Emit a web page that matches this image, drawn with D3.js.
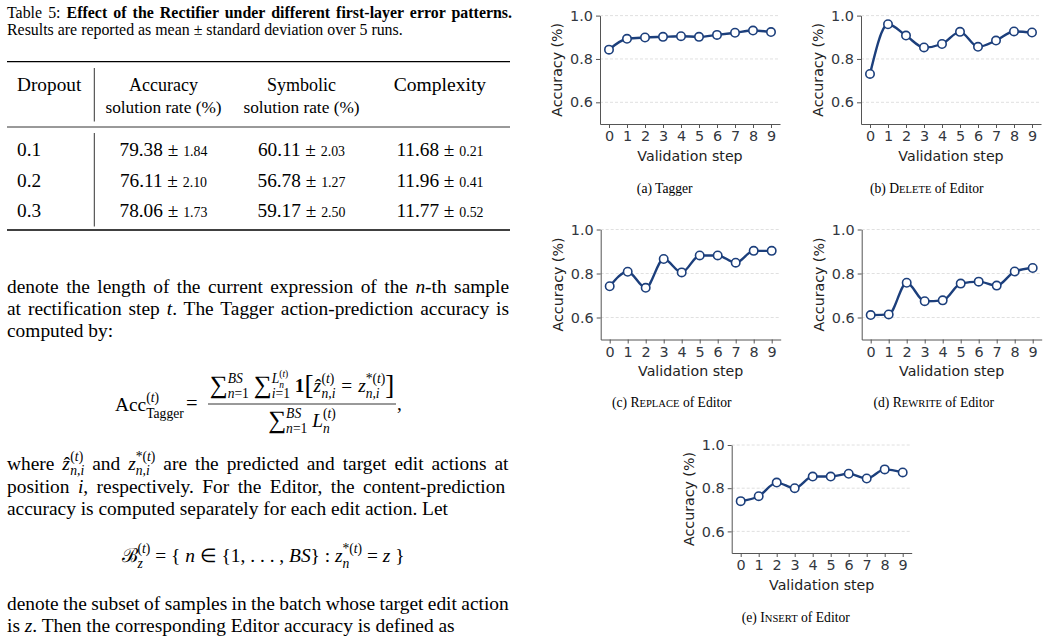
<!DOCTYPE html>
<html>
<head>
<meta charset="utf-8">
<script src="https://cdn.jsdelivr.net/npm/d3@7"></script>
<style>
  html, body { margin: 0; padding: 0; background: #fff; }
  svg { display: block; }
</style>
</head>
<body>
<svg id="page" width="1048" height="644"></svg>
<script>
// ---- chart data ----
const steps = [0, 1, 2, 3, 4, 5, 6, 7, 8, 9];
const taggerAcc  = [0.843, 0.893, 0.899, 0.902, 0.905, 0.902, 0.911, 0.921, 0.931, 0.924];
const deleteAcc  = [0.731, 0.960, 0.908, 0.853, 0.869, 0.925, 0.856, 0.885, 0.927, 0.922];
const replaceAcc = [0.742, 0.808, 0.735, 0.866, 0.805, 0.882, 0.882, 0.849, 0.903, 0.903];
const rewriteAcc = [0.611, 0.614, 0.758, 0.674, 0.678, 0.754, 0.763, 0.745, 0.809, 0.825];
const insertAcc  = [0.740, 0.763, 0.826, 0.800, 0.854, 0.854, 0.867, 0.845, 0.887, 0.873];
const yTicks = [0.6, 0.8, 1.0];

// ---- table data ----
const dropouts = ["0.1", "0.2", "0.3"];
const accMean = ["79.38", "76.11", "78.06"];
const accStd  = ["1.84", "2.10", "1.73"];
const symMean = ["60.11", "56.78", "59.17"];
const symStd  = ["2.03", "1.27", "2.50"];
const cxMean  = ["11.68", "11.96", "11.77"];
const cxStd   = ["0.21", "0.41", "0.52"];

const SERIF = "'Liberation Serif', 'Times New Roman', serif";
const SANS = "'DejaVu Sans', sans-serif";
const BLUE = "#1c3f7c";

const svg = d3.select("#page");
svg.append("rect").attr("width", 1048).attr("height", 644).attr("fill", "#fff");

// --- tiny typesetter: pieces of text with sub/superscripts ---
const r  = (t, o = {}) => ({t, st: "", ...o});
const it = (t, o = {}) => ({t, st: "i", ...o});
const bd = (t, o = {}) => ({t, st: "b", ...o});
const M = {op: "mark"}, BK = {op: "back"}, END = {op: "end"};

// stacked superscript / subscript
function S(sup, sub, lo = 0.30) {
  const f = (arr, base) => arr.map(p => p.op ? p : {...p, off: base + (p.off || 0) * 0.7, sc: (p.sc || 1) * 0.7});
  return [M, ...f(sup, -0.44), BK, ...f(sub, lo), END];
}
const zhat = () => [M, it("z"), BK, r("ˆ", {dx: 1.5}), END];
const tt = () => [r("("), it("t"), r(")")];
const st = () => [r("*("), it("t"), r(")")];

function rich(parent, x, y, size, segs, opts = {}) {
  const t = parent.append("text").attr("x", x).attr("y", y)
    .attr("font-family", SERIF).attr("font-size", size).attr("fill", "#000");
  let off = 0, pen = 0, dx = 0;
  const marks = [];
  segs.forEach(p => {
    if (p.op === "mark") { marks.push({x: pen + dx, end: 0}); return; }
    if (p.op === "back") { const m = marks[marks.length - 1]; m.end = pen + dx; dx = m.x - pen; return; }
    if (p.op === "end") { const m = marks.pop(); if (m.end > pen + dx) dx = m.end - pen; return; }
    const o = (p.off || 0) * size;
    const ts = t.append("tspan").text(p.t)
      .attr("font-size", (p.sc || 1) * size)
      .attr("dy", o - off);
    const ddx = dx + (p.dx || 0);
    if (ddx) ts.attr("dx", ddx);
    if (p.st.includes("i")) ts.attr("font-style", "italic");
    if (p.st.includes("b")) ts.attr("font-weight", "bold");
    off = o;
    pen += ddx + ts.node().getComputedTextLength();
    dx = 0;
  });
  const bb = t.node().getBBox();
  if (opts.width) {
    const n = (t.text().match(/ /g) || []).length;
    if (n) t.attr("word-spacing", (x + opts.width - (bb.x + bb.width)) / n);
  }
  if (opts.cx !== undefined) t.attr("x", x + opts.cx - (bb.x + bb.width / 2));
  return t;
}

// ---- left column: table caption + table ----
const left = svg.append("g");
const CAP = 15.9, BODY = 19.4, TAB = 19.3, COLW = 502;

rich(left, 7, 17.5, CAP, [r("Table 5: "), bd("Effect of the Rectifier under different first-layer error patterns.")], {width: 505});
rich(left, 7, 35, CAP, [r("Results are reported as mean ± standard deviation over 5 runs.")]);

const rule = (y, w) => left.append("line").attr("x1", 7).attr("x2", 510)
  .attr("y1", y).attr("y2", y).attr("stroke", "#000").attr("stroke-width", w);
rule(61.7, 1.3); rule(127, 0.8); rule(230, 1.3);
[[68, 121.5], [133, 226.5]].forEach(([a, b]) =>
  left.append("line").attr("x1", 94.3).attr("x2", 94.3).attr("y1", a).attr("y2", b)
    .attr("stroke", "#000").attr("stroke-width", 0.8));

const colX = [163.5, 301.5, 440];
rich(left, 17, 90.5, TAB, [r("Dropout")]);
rich(left, 0, 90.5, 18, [r("Accuracy")], {cx: colX[0]});
rich(left, 0, 113, 17.3, [r("solution rate (%)")], {cx: colX[0]});
rich(left, 0, 90.5, 18, [r("Symbolic")], {cx: colX[1]});
rich(left, 0, 113, 17.3, [r("solution rate (%)")], {cx: colX[1]});
rich(left, 0, 90.5, 19.6, [r("Complexity")], {cx: colX[2]});

dropouts.forEach((d, i) => {
  const y = 156 + i * 30.65;
  rich(left, 17, y, TAB, [r(d)]);
  [[accMean, accStd], [symMean, symStd], [cxMean, cxStd]].forEach(([m, s], j) =>
    rich(left, 0, y, TAB, [r(m[i] + " ± "), r(s[i], {sc: 0.72})], {cx: colX[j]}));
});

// ---- left column: running text ----
rich(left, 7, 292.5, BODY, [r("denote the length of the current expression of the "), it("n"), r("-th sample")], {width: COLW});
rich(left, 7, 314.5, BODY, [r("at rectification step "), it("t"), r(". The Tagger action-prediction accuracy is")], {width: COLW});
rich(left, 7, 336.5, BODY, [r("computed by:")]);

// Acc formula
rich(left, 115, 411, BODY, [r("Acc"), ...S(tt(), [r("Tagger")], 0.36)]);
rich(left, 186, 410, 20.5, [r("=")]);
const sum = r("∑", {sc: 1.3, off: 0.05});
const brk = o => r(o, {sc: 1.4, off: 0.09});
const numer = rich(left, 0, 392, BODY, [
  sum, ...S([it("BS")], [it("n"), r("=1")]), r(" "),
  sum, ...S([it("L"), ...S(tt(), [it("n")])], [it("i"), r("=1")]), r(" "),
  bd("1"), brk("["), ...zhat(), ...S(tt(), [it("n,i")]),
  r("  =  ", {dx: 1}), it("z", {dx: 1}), ...S(st(), [it("n,i")]), brk("]")
], {cx: 302});
rich(left, 0, 427, BODY, [sum, ...S([it("BS")], [it("n"), r("=1")]), r(" "), it("L"), ...S(tt(), [it("n")])], {cx: 302});
const nb = numer.node().getBBox();
left.append("line").attr("x1", Math.min(208, nb.x - 1)).attr("x2", Math.max(396, nb.x + nb.width + 1))
  .attr("y1", 404).attr("y2", 404).attr("stroke", "#000").attr("stroke-width", 0.8);
rich(left, 397, 410, BODY, [r(",")]);

rich(left, 7, 469.5, BODY, [r("where "), ...zhat(), ...S(tt(), [it("n,i")]), r(" and "), it("z"), ...S(st(), [it("n,i")]),
  r(" are the predicted and target edit actions at")], {width: COLW});
rich(left, 7, 492.5, BODY, [r("position "), it("i"), r(", respectively.  For the Editor, the content-prediction")], {width: COLW});
rich(left, 7, 515, BODY, [r("accuracy is computed separately for each edit action. Let")]);

rich(left, 0, 562, BODY, [r("ℬ"), ...S(tt(), [it("z")]), r(" = { "), it("n"), r(" ∈ {1, . . . , "), it("BS"), r("} : "),
  it("z"), ...S(st(), [it("n")]), r(" = "), it("z"), r(" }")], {cx: 263});

rich(left, 7, 610, BODY, [r("denote the subset of samples in the batch whose target edit action")], {width: COLW});
rich(left, 7, 632, BODY, [r("is "), it("z"), r(". Then the corresponding Editor accuracy is defined as")]);

// ---- right column: five small line charts ----
const sc = t => r(t, {sc: 0.78});
const charts = [
  {vals: taggerAcc,  x0: 600,   top: 15.6,  bot: 124,   capX: 665, capY: 193, cap: [r("(a) Tagger")]},
  {vals: deleteAcc,  x0: 861,   top: 15.6,  bot: 124,   capX: 927, capY: 193, cap: [r("(b) D"), sc("ELETE"), r(" of Editor")]},
  {vals: replaceAcc, x0: 600.7, top: 229.5, bot: 339.5, capX: 672, capY: 407, cap: [r("(c) R"), sc("EPLACE"), r(" of Editor")]},
  {vals: rewriteAcc, x0: 861.7, top: 229.5, bot: 339.5, capX: 934, capY: 407, cap: [r("(d) R"), sc("EWRITE"), r(" of Editor")]},
  {vals: insertAcc,  x0: 731.7, top: 445,   bot: 553,   capX: 796, capY: 622, cap: [r("(e) I"), sc("NSERT"), r(" of Editor")]}
];

charts.forEach(c => {
  const g = svg.append("g");
  const w = 180;
  const x = d3.scaleLinear().domain([-0.5, 9.5]).range([c.x0, c.x0 + w]);
  const y = d3.scaleLinear().domain([0.5, 1.0]).range([c.bot, c.top]);

  g.selectAll("line.grid").data(yTicks).join("line").attr("class", "grid")
    .attr("x1", c.x0).attr("x2", c.x0 + w)
    .attr("y1", d => y(d)).attr("y2", d => y(d))
    .attr("stroke", "#d8d8d8").attr("stroke-width", 0.8).attr("stroke-dasharray", "3,2");

  const ax = g.append("g").attr("transform", `translate(0,${c.bot})`)
    .call(d3.axisBottom(x).tickValues(steps).tickSize(4).tickSizeOuter(0).tickPadding(3));
  const ay = g.append("g").attr("transform", `translate(${c.x0},0)`)
    .call(d3.axisLeft(y).tickValues(yTicks).tickFormat(d3.format(".1f")).tickSize(4).tickSizeOuter(0).tickPadding(3));
  [ax, ay].forEach(a => {
    a.attr("font-family", SANS).attr("font-size", 14.4);
    a.selectAll("text").attr("fill", "#333740");
    a.select(".domain").attr("stroke", "#555");
    a.selectAll(".tick line").attr("stroke", "#555");
  });

  g.append("path").datum(c.vals)
    .attr("d", d3.line().x((d, i) => x(steps[i])).y(d => y(d)).curve(d3.curveMonotoneX))
    .attr("fill", "none").attr("stroke", BLUE).attr("stroke-width", 2.4);
  g.selectAll("circle").data(c.vals).join("circle")
    .attr("cx", (d, i) => x(steps[i])).attr("cy", d => y(d)).attr("r", 4.2)
    .attr("fill", "#fff").attr("stroke", BLUE).attr("stroke-width", 1.6);

  g.append("text").attr("x", c.x0 + w / 2).attr("y", c.bot + 36.5)
    .attr("text-anchor", "middle").attr("font-family", SANS).attr("font-size", 14.2)
    .attr("fill", "#222").text("Validation step");
  g.append("text").attr("transform", `translate(${c.x0 - 38},${(c.top + c.bot) / 2}) rotate(-90)`)
    .attr("text-anchor", "middle").attr("font-family", SANS).attr("font-size", 14.2)
    .attr("fill", "#222").text("Accuracy (%)");

  rich(g, 0, c.capY, 13.6, c.cap, {cx: c.capX});
});
</script>
</body>
</html>
